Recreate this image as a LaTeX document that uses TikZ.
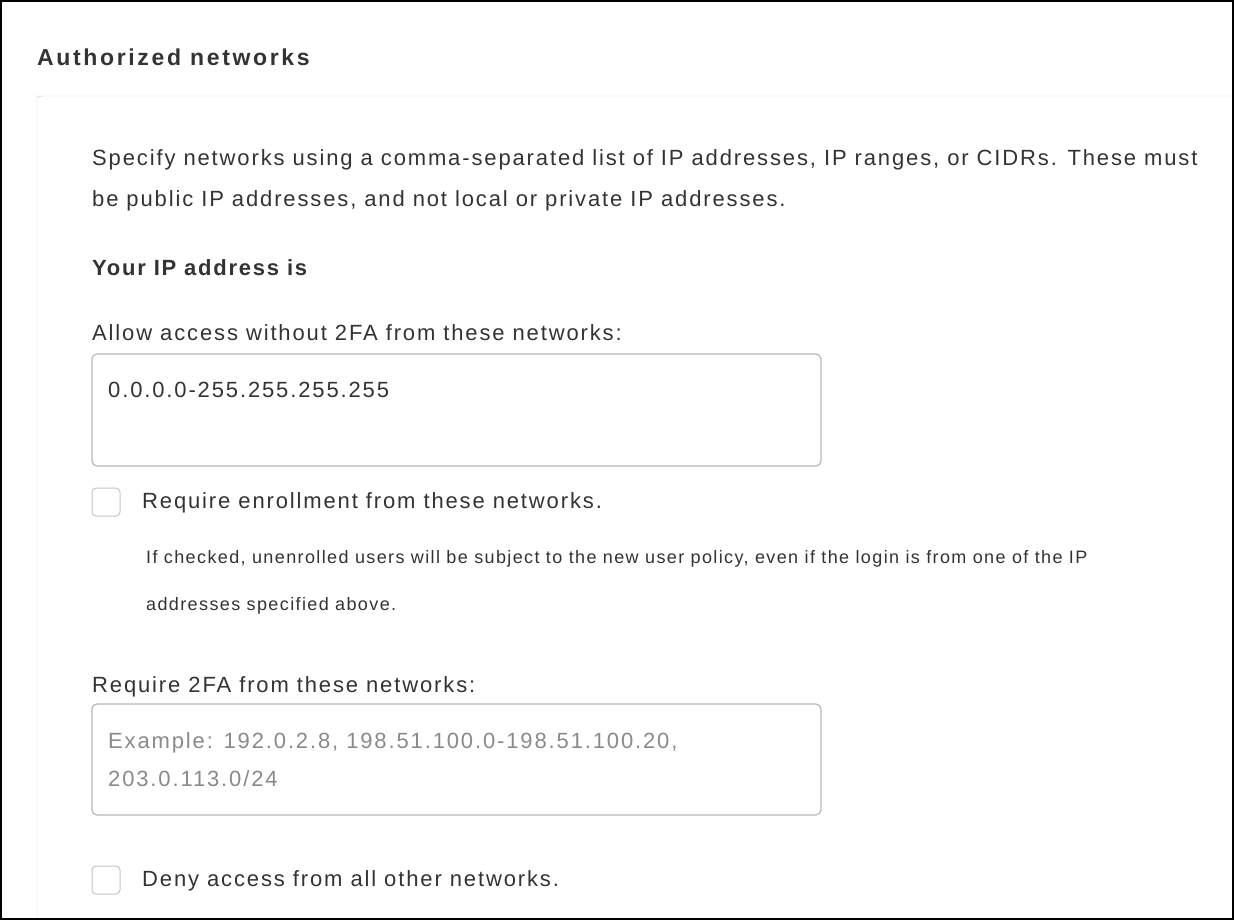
\documentclass[tikz,border=0pt]{standalone}
\usepackage{fontspec}
\setmainfont{Liberation Sans}
\definecolor{txt}{HTML}{333333}
\definecolor{bord}{HTML}{B8B8B8}
\definecolor{ph}{HTML}{8A8A8A}
\begin{document}
\begin{tikzpicture}[x=1pt,y=-1pt,
  lab/.style={anchor=base west,inner sep=0pt,text=txt,font=\fontsize{22}{24}\selectfont\addfontfeature{LetterSpace=8.5}},
  small/.style={anchor=base west,inner sep=0pt,text=txt,font=\fontsize{18}{20}\selectfont\addfontfeature{LetterSpace=7.7}},
  field/.style={draw=bord,line width=1.2pt,rounded corners=5pt},
  cbox/.style={draw=bord!80,line width=1pt,rounded corners=4pt,fill=white}]
\useasboundingbox (0,0) rectangle (1234,920);
\fill[white] (0,0) rectangle (1234,920);
\draw[black!15,rounded corners=6pt] (37,96) -- (1240,96) (37,930) -- (37,102) arc[start angle=180,end angle=270,radius=6];
\node[lab,font=\bfseries\fontsize{23}{24}\selectfont\addfontfeature{LetterSpace=11.5}] (title) at (37,66) {Authorized networks};
\node[lab] (p1) at (92,166) {Specify networks using a comma-separated list of IP addresses, IP ranges, or CIDRs. These must};
\node[lab] (p2) at (92,207) {be public IP addresses, and not local or private IP addresses.};
\node[lab,font=\bfseries\fontsize{22}{24}\selectfont\addfontfeature{LetterSpace=8}] (ip) at (92,275) {Your IP address is};
\node[lab] (allow) at (92,340) {Allow access without 2FA from these networks:};
\draw[field] (92,354) rectangle (821,466);
\node[lab] (v1) at (108,397) {0.0.0.0-255.255.255.255};
\draw[cbox] (92,488) rectangle (120,516);
\node[lab] (enr) at (142,508) {Require enrollment from these networks.};
\node[small] (s1) at (146,563) {If checked, unenrolled users will be subject to the new user policy, even if the login is from one of the IP};
\node[small] (s2) at (146,610) {addresses specified above.};
\node[lab] (req) at (92,692) {Require 2FA from these networks:};
\draw[field] (92,704) rectangle (821,815);
\node[lab,text=ph] (e1) at (108,748) {Example: 192.0.2.8, 198.51.100.0-198.51.100.20,};
\node[lab,text=ph] (e2) at (108,786) {203.0.113.0/24};
\draw[cbox] (92,866) rectangle (120,894);
\node[lab] (deny) at (142,886) {Deny access from all other networks.};
\draw[black,line width=2pt] (1,1) rectangle (1233,919);
\end{tikzpicture}
\end{document}
